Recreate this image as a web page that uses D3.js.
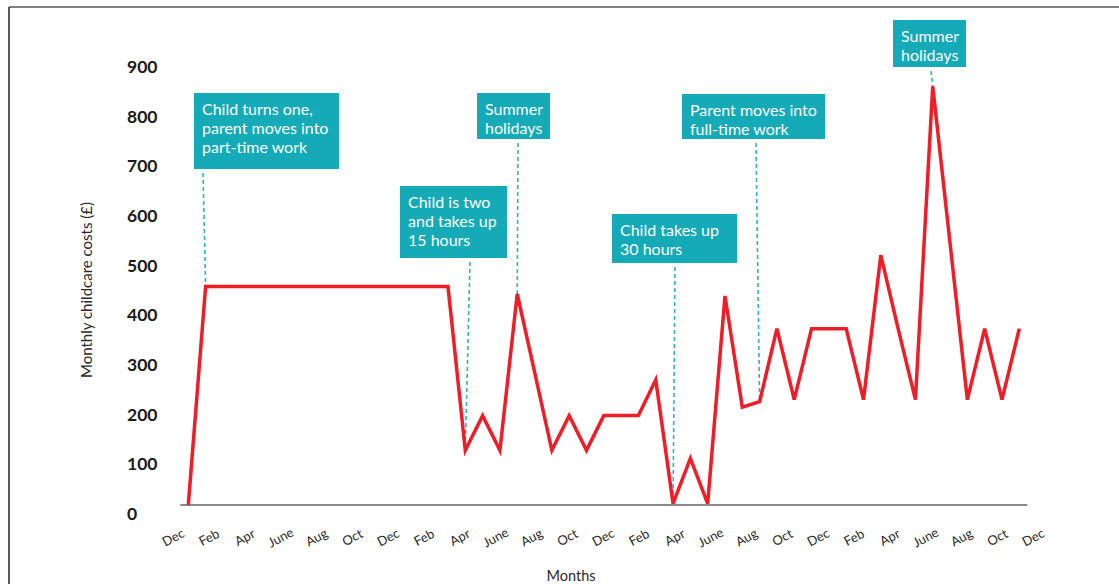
<!DOCTYPE html>
<html>
<head>
<meta charset="utf-8">
<script src="https://cdn.jsdelivr.net/npm/d3@7"></script>
<style>
  html, body { margin: 0; padding: 0; background: #fff; }
  svg { display: block; font-family: Lato, "Open Sans", sans-serif; }
</style>
</head>
<body>
<svg id="chart" width="1119" height="584"></svg>
<script>
// Months run from December (index 0) through the December four years later (index 48)
const monthIndex = d3.range(0, 49);

// Monthly childcare costs (£)
const monthlyCost = [
  0,
  440, 440, 440, 440, 440, 440, 440, 440, 440, 440, 440, 440, 440, 440, 440,
  110, 180, 110, 425, 268, 110, 180, 110,
  180, 180, 180, 252, 3, 94, 3, 421, 197, 208,
  355, 212, 355, 355, 355, 212, 503, 355, 212, 843, 527, 212, 355, 212, 355
];

// Axis tick labels (every second month)
const tickMonths = d3.range(0, 49, 2);
const tickLabels = [
  "Dec", "Feb", "Apr", "June", "Aug", "Oct",
  "Dec", "Feb", "Apr", "June", "Aug", "Oct",
  "Dec", "Feb", "Apr", "June", "Aug", "Oct",
  "Dec", "Feb", "Apr", "June", "Aug", "Oct",
  "Dec"
];
const yTicks = [0, 100, 200, 300, 400, 500, 600, 700, 800, 900];

// Life events, keyed by month
const eventMonths = [1, 16, 19, 28, 33, 43];
const eventTexts = [
  ["Child turns one,", "parent moves into", "part-time work"],
  ["Child is two", "and takes up", "15 hours"],
  ["Summer", "holidays"],
  ["Child takes up", "30 hours"],
  ["Parent moves into", "full-time work"],
  ["Summer", "holidays"]
];

// Callout box placement: left, top, width, height, and x where the leader leaves the box
const boxLayout = [
  { x: 194, y: 93, w: 145, h: 76, lx: 203 },
  { x: 400, y: 186, w: 107, h: 72, lx: 470 },
  { x: 477, y: 93, w: 73, h: 46, lx: 518 },
  { x: 612, y: 214, w: 125, h: 49, lx: 675 },
  { x: 682, y: 94, w: 143, h: 45, lx: 756 },
  { x: 893, y: 20, w: 73, h: 47, lx: 931 }
];

const svg = d3.select("#chart");

const teal = "#15aab7";
const leader = "#2ab4c6";
const red = "#ee1d26";

// Frame
svg.append("line").attr("x1", 9).attr("x2", 1119).attr("y1", 7).attr("y2", 7)
  .attr("stroke", "#555").attr("stroke-width", 1.5);
svg.append("line").attr("x1", 9).attr("x2", 9).attr("y1", 7).attr("y2", 584)
  .attr("stroke", "#222").attr("stroke-width", 1.5);

// Scales
const x = d3.scaleLinear().domain([0, 48]).range([188.3, 1019.3]);
const xLabel = d3.scaleLinear().domain([0, 48]).range([173, 1033]);
const y = d3.scaleLinear().domain([0, 900]).range([505, 58]);

// Baseline
svg.append("line")
  .attr("x1", x(0) - 8).attr("x2", x(48) + 8)
  .attr("y1", y(0)).attr("y2", y(0))
  .attr("stroke", "#8a8a8a").attr("stroke-width", 2);

// Y axis labels
const yAxis = d3.axisLeft(y).tickValues(yTicks).tickSize(0).tickPadding(0);
const yG = svg.append("g").attr("transform", "translate(127,0)").call(yAxis);
yG.select(".domain").remove();
yG.selectAll("text")
  .attr("text-anchor", "start")
  .attr("x", 0)
  .attr("dy", null)
  .attr("dominant-baseline", "central")
  .attr("transform", "translate(0,8)")
  .attr("font-family", "Lato, sans-serif")
  .attr("font-size", 17.5)
  .attr("font-weight", "bold")
  .attr("fill", "#1a1a1a");

// X axis labels
const xAxis = d3.axisBottom(xLabel).tickValues(tickMonths)
  .tickFormat((d, i) => tickLabels[i]).tickSize(0).tickPadding(0);
const xG = svg.append("g").call(xAxis);
xG.select(".domain").remove();
xG.selectAll(".tick").attr("transform", d => `translate(${xLabel(d)},537)`);
xG.selectAll("text")
  .attr("y", 0)
  .attr("dy", null)
  .attr("dominant-baseline", "central")
  .attr("text-anchor", "middle")
  .attr("transform", "rotate(-28)")
  .attr("font-family", "Lato, sans-serif")
  .attr("font-size", 13)
  .attr("fill", "#2a2a2a");

// Axis titles
svg.append("text")
  .attr("transform", "translate(92,290) rotate(-90)")
  .attr("text-anchor", "middle")
  .attr("font-size", 15)
  .attr("fill", "#2a2a2a")
  .text("Monthly childcare costs (£)");
svg.append("text")
  .attr("x", 571).attr("y", 581)
  .attr("text-anchor", "middle")
  .attr("font-size", 14.5)
  .attr("fill", "#2a2a2a")
  .text("Months");

// Callouts
const callouts = svg.append("g");
eventMonths.forEach((m, i) => {
  const b = boxLayout[i];
  callouts.append("line")
    .attr("x1", b.lx).attr("y1", b.y + b.h + 4)
    .attr("x2", x(m)).attr("y2", y(monthlyCost[m]))
    .attr("stroke", leader).attr("stroke-width", 1.6)
    .attr("stroke-dasharray", "4,3");
  callouts.append("rect")
    .attr("x", b.x).attr("y", b.y).attr("width", b.w).attr("height", b.h)
    .attr("fill", teal);
  const t = callouts.append("text")
    .attr("x", b.x + 8).attr("y", b.y + 22)
    .attr("font-size", 16)
    .attr("fill", "#fff");
  eventTexts[i].forEach((line, j) => {
    t.append("tspan").attr("x", b.x + 8).attr("dy", j === 0 ? 0 : 19).text(line);
  });
});

// Cost line
const line = d3.line().x(d => x(d)).y(d => y(monthlyCost[d]));
svg.append("path")
  .datum(monthIndex)
  .attr("fill", "none")
  .attr("stroke", red)
  .attr("stroke-width", 3.5)
  .attr("stroke-linejoin", "miter")
  .attr("d", line);
</script>
</body>
</html>
